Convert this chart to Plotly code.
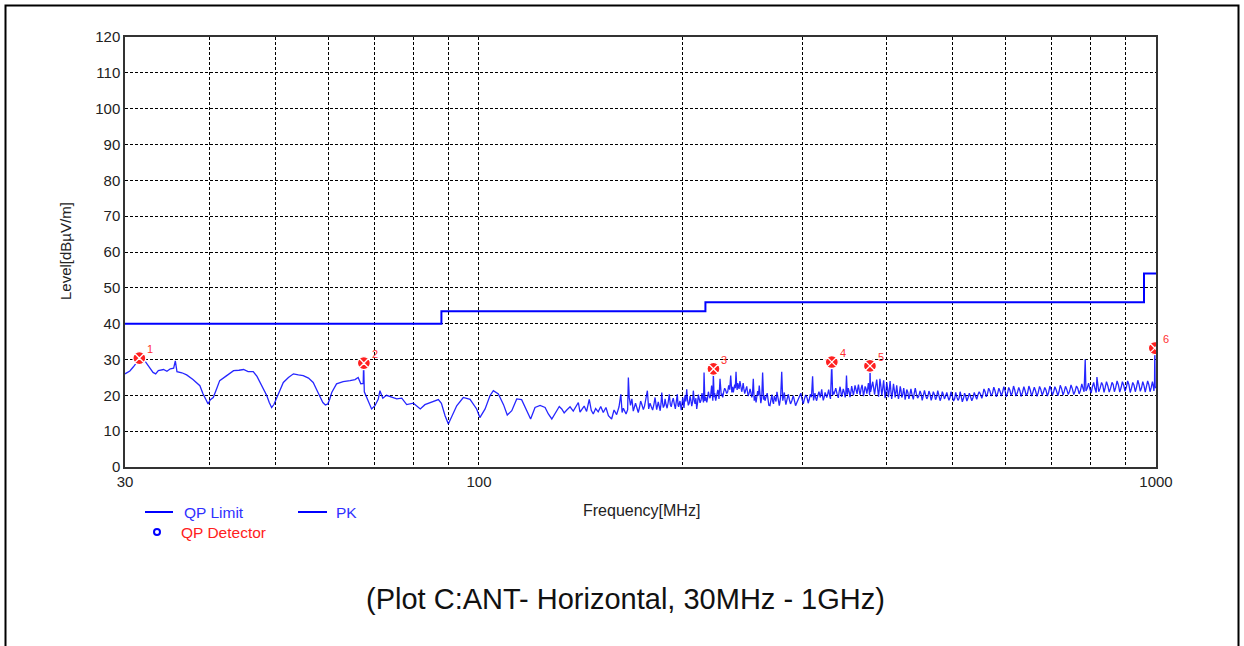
import math
import plotly.graph_objects as go

# ---------------- data ----------------
limit_freq = [30, 88, 216, 960, 1000]
limit_level = [40, 43.5, 46, 54, 54]

qp_freq = [31.5, 67.6, 222.0, 332.0, 378.0, 996.0]
qp_level = [30.4, 29.0, 27.4, 29.3, 28.2, 33.2]
qp_labels = ["1", "2", "3", "4", "5", "6"]

# PK spectrum, 30 - 125 MHz (smooth part)
pk_freq_low = [30.0, 30.5, 30.85, 31.2, 31.57, 32.1, 32.5, 33.0, 33.3, 33.6, 34.2, 34.6,
               35.0, 35.4, 35.6, 35.8, 36.4, 37.0, 37.8, 38.7, 39.1, 39.4, 39.8, 40.1,
               40.5, 41.0, 41.4, 42.4, 43.4, 44.2, 44.9, 45.6, 46.4, 47.0, 47.5, 48.1,
               48.6, 49.0, 49.4, 49.8, 50.3, 51.4, 52.3, 53.2, 54.1, 55.0, 56.0, 56.9,
               57.6, 58.2, 58.8, 59.3, 59.8, 60.2, 60.6, 61.6, 63.0, 64.5, 65.6, 66.3,
               66.9, 67.45, 67.55, 67.7, 68.4, 69.4, 70.2, 71.0, 71.4, 72.1, 73.0, 73.9,
               75.6, 76.9, 78.2, 80.0, 81.0, 81.9, 83.2, 85.1, 87.1, 88.0, 89.1, 90.1,
               91.1, 92.7, 94.8, 97.0, 99.2, 100.3, 102.1, 103.8, 105.0, 106.8, 108.7,
               110.1, 111.8, 113.7, 115.6, 117.6, 119.2, 121.0, 123.1]
pk_level_low = [26.0, 26.8, 27.9, 29.0, 30.4, 29.6, 28.0, 26.4, 26.0, 26.9, 27.2, 26.7,
                27.4, 27.6, 29.6, 26.6, 26.3, 25.7, 24.4, 22.7, 20.5, 19.2, 17.6, 18.8,
                19.4, 22.0, 24.1, 25.5, 26.9, 27.0, 27.2, 26.6, 26.6, 25.3, 23.6, 21.8,
                19.9, 18.0, 16.6, 17.5, 19.4, 23.6, 25.0, 26.0, 25.7, 25.5, 24.8, 23.6,
                21.5, 19.9, 18.0, 17.3, 17.6, 19.0, 20.8, 23.2, 23.8, 24.1, 24.4, 25.0,
                23.2, 23.3, 29.3, 21.0, 19.0, 16.2, 17.1, 19.0, 21.3, 19.2, 20.0, 19.7,
                19.0, 19.2, 17.4, 17.8, 16.8, 16.2, 17.4, 18.1, 18.8, 17.8, 14.3, 12.0,
                13.8, 17.1, 19.4, 18.9, 16.2, 13.8, 16.2, 19.9, 21.3, 20.4, 17.4,
                14.5, 15.7, 19.0, 18.8, 15.7, 13.4, 16.6, 17.2]

# PK spectrum, 125 - 300 MHz
pk_freq_mid = [125.2, 126.6, 128.1, 129.2, 130.3, 131.4, 132.5, 133.6, 134.8, 136.3, 137.8,
               139.0, 140.2, 141.0, 141.8, 143.0, 144.2, 145.5, 146.5, 147.5, 148.7, 150.0,
               151.3, 152.6, 154.0, 155.3, 157.0, 158.3, 159.7, 161.0, 162.0, 162.7, 163.4,
               164.9, 165.8, 166.2, 166.7, 167.4, 168.2, 169.0, 170.3, 171.9, 173.3, 174.9,
               176.3, 177.3, 178.1, 178.9, 180.5, 182.0, 183.0, 184.0, 185.2, 186.2, 187.2,
               188.3, 189.6, 191.0, 192.3, 193.6, 195.0, 196.3, 197.2, 198.1, 199.0, 200.0,
               200.8, 201.5, 202.7, 203.8, 205.0, 206.2, 207.3, 208.5, 209.7, 210.9, 212.1,
               213.5, 214.6, 215.0, 215.6, 217.0, 218.2, 219.4, 220.6, 221.5, 221.9, 222.5,
               223.7, 225.3, 226.2, 227.0, 228.0, 229.1, 230.6, 232.2, 233.8, 235.4, 236.3,
               237.5, 238.6, 239.7, 240.6, 241.6, 242.9, 244.4, 245.6, 246.9, 248.6, 249.8,
               251.4, 252.9, 254.2, 255.0, 256.6, 258.0, 259.4, 260.8, 262.4, 263.3, 264.5,
               266.5, 268.0, 269.0, 270.8, 272.3, 273.7, 275.5, 277.7, 279.0, 280.0, 281.0,
               282.5, 284.0, 286.4, 288.5, 291.2, 293.5, 296.2, 298.8]
pk_level_mid = [16.6, 14.8, 13.4, 14.6, 15.7, 16.9, 16.2, 15.1, 15.9, 16.8, 15.6,
                16.7, 18.0, 15.3, 15.9, 17.0, 15.5, 18.9, 15.8, 14.8, 16.3, 15.4,
                16.9, 15.2, 16.6, 14.3, 13.4, 15.9, 14.6, 16.8, 20.3, 15.2, 16.4,
                14.8, 16.0, 25.0, 19.5, 17.2, 19.0, 15.6, 17.8, 15.2, 18.4, 16.0,
                18.6, 21.3, 16.2, 17.8, 15.9, 19.4, 16.0, 18.2, 15.7, 20.8, 16.6,
                19.0, 16.4, 20.3, 16.8, 19.2, 16.2, 20.3, 16.8, 18.4, 15.9, 19.4,
                16.5, 20.0, 21.7, 17.2, 19.8, 17.0, 21.3, 17.6, 16.2, 20.2, 17.9,
                20.6, 18.0, 26.4, 18.4, 18.0, 21.0, 19.2, 22.7, 18.5, 26.0, 19.5,
                18.5, 21.5, 19.0, 24.6, 19.8, 19.4, 22.0, 20.5, 22.8, 25.5, 20.8,
                20.8, 23.0, 26.6, 21.5, 22.2, 24.0, 21.0, 23.4, 20.5, 22.5, 19.8,
                21.8, 19.4, 24.6, 18.5, 18.0, 21.2, 22.7, 17.8, 26.4, 18.8, 18.5,
                20.6, 17.2, 17.1, 20.2, 17.6, 18.9, 21.0, 17.1, 19.6, 26.6, 18.5,
                20.8, 17.4, 20.3, 17.6, 19.9, 17.1, 18.9, 20.6]

# extra in-between samples, 170 - 300 MHz
pk_freq_mid2 = [170.9, 172.6, 174.1, 175.6, 179.7, 181.3, 183.5, 184.6, 185.7, 186.7, 187.8,
                188.9, 190.3, 191.7, 192.9, 194.3, 195.7, 196.8, 197.7, 198.6, 199.5, 201.2,
                202.1, 203.2, 204.4, 205.6, 206.8, 207.9, 209.1, 210.3, 211.5, 212.8, 214.0,
                216.3, 217.6, 218.8, 220.0, 222.9, 224.5, 225.7, 227.5, 228.5, 229.8, 231.4,
                233.0, 234.6, 236.9, 238.1, 239.1, 240.2, 241.1, 242.2, 243.6, 245.0, 246.2,
                247.8, 249.2, 250.6, 252.1, 253.5, 255.8, 257.3, 258.7, 260.1, 261.6, 263.8,
                265.5, 267.2, 269.9, 271.5, 273.0, 274.6, 276.6, 278.3, 280.5, 281.7, 283.2,
                285.2, 287.4, 289.8, 292.3, 294.8, 297.5, 300.0]
pk_level_mid2 = [17.0, 16.6, 17.3, 17.0, 16.8, 17.5, 17.0, 16.9, 17.6, 17.9, 17.2,
                 17.5, 18.0, 17.4, 18.2, 17.6, 18.5, 17.2, 17.9, 17.0, 17.8, 18.0,
                 18.3, 18.9, 17.8, 18.6, 18.2, 18.8, 19.2, 17.9, 19.0, 18.6, 19.2,
                 19.6, 19.3, 19.9, 20.3, 20.6, 20.0, 20.8, 21.0, 20.5, 20.9, 21.4,
                 21.0, 21.6, 22.4, 21.6, 22.0, 22.8, 23.4, 21.8, 22.5, 22.0, 21.8,
                 21.6, 21.0, 20.6, 20.8, 20.4, 19.8, 19.6, 19.9, 20.2, 19.4, 20.0,
                 19.4, 19.0, 18.8, 18.4, 19.8, 18.3, 19.4, 18.2, 19.8, 19.6, 18.8,
                 19.0, 18.8, 18.5, 18.6, 18.0, 19.6, 19.0]

# PK spectrum, 300 - 1000 MHz
pk_freq_high = [301.3, 303.8, 306.4, 308.6, 311.0, 312.0, 313.5, 315.3, 317.8, 320.8, 322.5,
                324.5, 326.3, 328.5, 330.5, 331.9, 333.0, 334.5, 336.5, 339.4, 341.5, 343.2,
                345.2, 347.5, 349.0, 350.0, 351.1, 353.2, 355.2, 357.3, 359.3, 361.8, 363.5,
                365.5, 368.0, 369.8, 371.8, 374.0, 376.0, 377.6, 378.1, 378.8, 381.6, 384.0,
                386.8, 389.2, 391.0, 393.5, 396.0, 398.0, 400.2, 402.5, 404.8, 407.0, 409.5,
                411.8, 414.0, 416.5, 419.0, 421.2, 424.0, 426.0, 428.4, 431.5, 434.5, 438.1,
                441.0, 444.5, 448.2, 451.5, 455.0, 458.6, 462.0, 465.5, 468.9, 472.5, 476.0,
                479.8, 483.5, 487.0, 490.9, 494.5, 498.0, 502.2, 506.0, 510.0, 513.7, 517.5,
                521.5, 525.6, 530.0, 534.5, 539.0, 543.5, 548.0, 553.0, 557.0, 561.5, 566.0,
                571.0, 576.0, 581.0, 586.0, 591.0, 596.0, 601.0, 606.0, 611.0, 616.0, 621.0,
                627.0, 632.0, 638.0, 643.0, 649.0, 655.0, 661.0, 667.0, 673.0, 679.0, 685.0,
                691.0, 697.0, 703.0, 709.0, 716.0, 722.0, 729.0, 735.0, 742.0, 749.0, 756.0,
                763.0, 770.0, 777.0, 783.0, 786.0, 788.0, 795.0, 802.0, 809.0, 816.0, 818.0,
                823.0, 831.0, 838.0, 845.0, 853.0, 861.0, 868.0, 876.0, 884.0, 892.0, 900.0,
                908.0, 916.0, 924.0, 932.0, 940.0, 948.0, 956.0, 964.0, 972.0, 980.0, 988.0,
                993.0, 995.0, 996.0, 997.0, 1000.0]
pk_level_high = [17.6, 20.1, 17.8, 20.3, 25.3, 18.6, 20.6, 18.5, 21.0, 21.7, 18.6,
                 20.8, 19.4, 21.6, 19.0, 28.8, 20.0, 20.3, 22.0, 19.3, 22.4, 19.6,
                 21.8, 19.4, 25.5, 20.2, 22.0, 19.5, 22.6, 20.0, 22.8, 20.4, 23.0,
                 20.1, 22.9, 19.8, 22.5, 20.5, 23.4, 20.0, 27.4, 21.0, 23.8, 20.2,
                 24.4, 19.6, 24.6, 20.0, 24.2, 19.2, 23.6, 19.5, 24.0, 19.0, 23.2,
                 19.4, 22.8, 19.0, 22.5, 19.4, 22.0, 18.8, 21.6, 19.0, 21.8, 18.9,
                 22.0, 19.2, 21.2, 18.6, 21.4, 19.0, 21.2, 18.6, 21.0, 18.8, 21.3,
                 18.5, 21.0, 19.0, 20.8, 18.6, 21.0, 18.4, 20.8, 18.6, 21.0, 18.2,
                 20.6, 18.4, 20.6, 18.5, 20.8, 18.9, 21.0, 19.2, 21.8, 19.6, 22.0,
                 19.8, 22.3, 19.6, 22.0, 19.8, 22.4, 19.6, 22.2, 19.9, 22.6, 19.8,
                 22.2, 19.7, 22.4, 19.9, 22.6, 19.8, 22.3, 19.7, 22.5, 20.0, 22.2,
                 19.8, 22.6, 20.0, 22.4, 19.9, 22.8, 20.1, 22.5, 20.2, 22.9, 20.2,
                 22.6, 20.4, 23.2, 21.0, 30.0, 21.2, 23.4, 20.6, 23.6, 20.8, 25.1,
                 21.0, 23.6, 20.8, 23.8, 20.9, 23.6, 21.0, 24.0, 20.9, 23.8, 21.1,
                 24.0, 20.8, 23.6, 21.0, 24.2, 21.1, 23.8, 20.9, 24.0, 21.0, 23.8,
                 21.2, 23.5, 33.2, 22.5, 22.0]

# extra in-between samples, 300 - 1000 MHz
pk_freq_high2 = [302.5, 305.1, 307.5, 309.8, 312.7, 314.4, 316.5, 319.3, 321.6, 323.5, 325.4,
                 327.4, 329.5, 333.7, 335.5, 338.0, 340.4, 342.3, 344.2, 346.3, 348.2, 350.5,
                 352.2, 354.2, 356.2, 358.3, 360.5, 362.6, 364.5, 366.7, 368.9, 370.8, 372.9,
                 375.0, 380.2, 382.8, 385.4, 388.0, 390.1, 392.2, 394.7, 397.0, 399.1, 401.3,
                 403.6, 405.9, 408.2, 410.6, 412.9, 415.2, 417.8, 420.1, 422.6, 425.0, 427.2,
                 430.0, 433.0, 436.3, 439.5, 442.7, 446.3, 449.8, 453.2, 456.8, 460.3, 463.7,
                 467.2, 470.7, 474.2, 477.9, 481.6, 485.2, 489.0, 492.7, 496.2, 500.1, 504.1,
                 508.0, 511.8, 515.6, 519.5, 523.5, 527.8, 532.2, 536.7, 541.2, 545.7, 550.5,
                 555.0, 559.2, 563.7, 568.5, 573.5, 578.5, 583.5, 588.5, 593.5, 598.5, 603.5,
                 608.5, 613.5, 618.5, 624.0, 629.5, 635.0, 640.5, 646.0, 652.0, 658.0, 664.0,
                 670.0, 676.0, 682.0, 688.0, 694.0, 700.0, 706.0, 712.5, 719.0, 725.5, 732.0,
                 738.5, 745.5, 752.5, 759.5, 766.5, 773.5, 780.0, 791.5, 798.5, 805.5, 812.5,
                 820.5, 827.0, 834.5, 841.5, 849.0, 857.0, 864.5, 872.0, 880.0, 888.0, 896.0,
                 904.0, 912.0, 920.0, 928.0, 936.0, 944.0, 952.0, 960.0, 968.0, 976.0, 984.0,
                 990.5]
pk_level_high2 = [19.0, 19.4, 18.9, 19.5, 19.6, 19.2, 19.9, 19.4, 20.0, 19.5, 20.2,
                  20.4, 20.0, 21.0, 21.2, 20.4, 21.0, 21.1, 20.6, 20.8, 20.6, 21.1,
                  21.0, 20.8, 21.4, 21.3, 21.6, 21.9, 21.3, 21.8, 21.5, 21.0, 21.9,
                  21.8, 22.2, 22.0, 22.6, 21.8, 21.5, 22.8, 21.8, 21.6, 21.0, 21.9,
                  21.4, 21.2, 20.8, 21.6, 20.8, 20.6, 20.4, 21.4, 20.2, 20.6, 20.0,
                  20.8, 20.2, 20.0, 20.6, 20.4, 19.8, 20.4, 19.9, 20.0, 19.7, 20.3,
                  19.6, 20.2, 19.5, 20.0, 19.4, 20.2, 19.8, 19.6, 19.4, 19.9, 19.0,
                  19.5, 19.2, 19.7, 19.1, 19.8, 19.3, 19.6, 19.4, 19.8, 20.1, 20.3,
                  20.2, 21.0, 20.4, 21.2, 20.6, 21.2, 20.5, 21.1, 20.9, 21.3, 20.6,
                  21.4, 20.8, 21.5, 20.7, 21.3, 20.8, 21.4, 20.6, 21.5, 20.9, 21.2,
                  20.8, 21.6, 20.9, 21.4, 20.8, 21.6, 21.0, 21.4, 21.0, 21.8, 21.1,
                  21.6, 21.2, 21.8, 21.2, 21.9, 21.4, 22.0, 22.0, 21.8, 22.4, 21.9,
                  22.6, 22.0, 22.8, 22.2, 22.6, 22.0, 23.0, 22.2, 22.9, 22.1, 22.8,
                  22.2, 23.0, 22.0, 22.8, 22.3, 23.0, 22.1, 22.7, 22.4, 23.0, 22.2,
                  22.8]

y_ticks = [0, 10, 20, 30, 40, 50, 60, 70, 80, 90, 100, 110, 120]
x_grid = [30, 40, 50, 60, 70, 80, 90, 100, 200, 300, 400, 500, 600, 700, 800, 900, 1000]
x_tick_text = ["30", "", "", "", "", "", "", "100", "", "", "", "", "", "", "", "", "1000"]

# merge sample sets in frequency order
pk_pairs = sorted(zip(pk_freq_low + pk_freq_mid + pk_freq_mid2 + pk_freq_high + pk_freq_high2,
                      pk_level_low + pk_level_mid + pk_level_mid2 + pk_level_high + pk_level_high2))
pk_freq = [p[0] for p in pk_pairs]
pk_level = [p[1] for p in pk_pairs]

# ---------------- layout geometry (pixels) ----------------
W, H = 1244, 646
L, R, T, B = 125, 1156, 37, 467
pw, ph = R - L, B - T


def px(x):
    return (x - L) / pw


def py(y):
    return (B - y) / ph


FONT = "Arial, Liberation Sans, sans-serif"
BLUE = "#0000ff"

fig = go.Figure()

fig.add_trace(go.Scatter(
    x=pk_freq, y=pk_level, mode="lines", name="PK",
    line=dict(color="rgba(0,0,255,0.85)", width=1.3),
    showlegend=False, hoverinfo="skip"))

fig.add_trace(go.Scatter(
    x=limit_freq, y=limit_level, mode="lines", name="QP Limit",
    line=dict(color=BLUE, width=2, shape="hv"),
    showlegend=False, hoverinfo="skip"))

fig.add_trace(go.Scatter(
    x=qp_freq, y=qp_level, mode="markers", name="QP Detector",
    marker=dict(symbol="circle-x", size=13, color="#ff2020",
                line=dict(color="white", width=1.3)),
    showlegend=False, hoverinfo="skip"))

annotations = []
for f, lv, lab in zip(qp_freq, qp_level, qp_labels):
    annotations.append(dict(
        x=math.log10(f), y=lv, xref="x", yref="y", text=lab, showarrow=False,
        xshift=11, yshift=9, font=dict(family=FONT, size=11, color="#ff3030")))


def txt(x, y, s, size, color, xanchor="center", angle=0):
    return dict(x=px(x), y=py(y), xref="paper", yref="paper", text=s, showarrow=False,
                xanchor=xanchor, yanchor="middle", textangle=angle,
                font=dict(family=FONT, size=size, color=color))


annotations += [
    txt(641, 511, "Frequency[MHz]", 16, "#222"),
    txt(66, 251, "Level[dBµV/m]", 15, "#222", angle=-90),
    txt(182, 512, "QP Limit", 15.5, "#3030ff", xanchor="left"),
    txt(334, 512, "PK", 15.5, "#3030ff", xanchor="left"),
    txt(179, 532, "QP Detector", 15.5, "#ff2020", xanchor="left"),
    txt(625, 599, "(Plot C:ANT- Horizontal, 30MHz - 1GHz)", 29, "#111"),
]

shapes = [
    # legend samples
    dict(type="line", xref="paper", yref="paper", x0=px(145), x1=px(173), y0=py(512), y1=py(512),
         line=dict(color=BLUE, width=2)),
    dict(type="line", xref="paper", yref="paper", x0=px(298), x1=px(327), y0=py(512), y1=py(512),
         line=dict(color=BLUE, width=2)),
    dict(type="circle", xref="paper", yref="paper", x0=px(154), x1=px(160), y0=py(535), y1=py(529),
         line=dict(color=BLUE, width=2)),
    # outer frame
    dict(type="rect", xref="paper", yref="paper", x0=px(5.5), x1=px(1238.5), y0=py(680), y1=py(5.5),
         line=dict(color="black", width=2), layer="below"),
]

fig.update_layout(
    width=W, height=H,
    margin=dict(l=L, r=W - R, t=T, b=H - B),
    paper_bgcolor="white", plot_bgcolor="white",
    showlegend=False,
    annotations=annotations,
    shapes=shapes,
    font=dict(family=FONT, color="#222"),
)

fig.update_xaxes(
    type="log", range=[math.log10(30), 3],
    tickvals=x_grid, ticktext=x_tick_text, ticks="",
    showgrid=True, gridcolor="black", griddash="3px,2px", gridwidth=1,
    showline=True, linecolor="#333", linewidth=1.5, mirror=True,
    zeroline=False, tickfont=dict(family=FONT, size=15, color="#222"),
)
fig.update_yaxes(
    range=[0, 120], tickvals=y_ticks, ticks="",
    showgrid=True, gridcolor="black", griddash="3px,2px", gridwidth=1,
    showline=True, linecolor="#333", linewidth=1.5, mirror=True,
    zeroline=False, tickfont=dict(family=FONT, size=15, color="#222"),
)

fig.write_html("out.html")
